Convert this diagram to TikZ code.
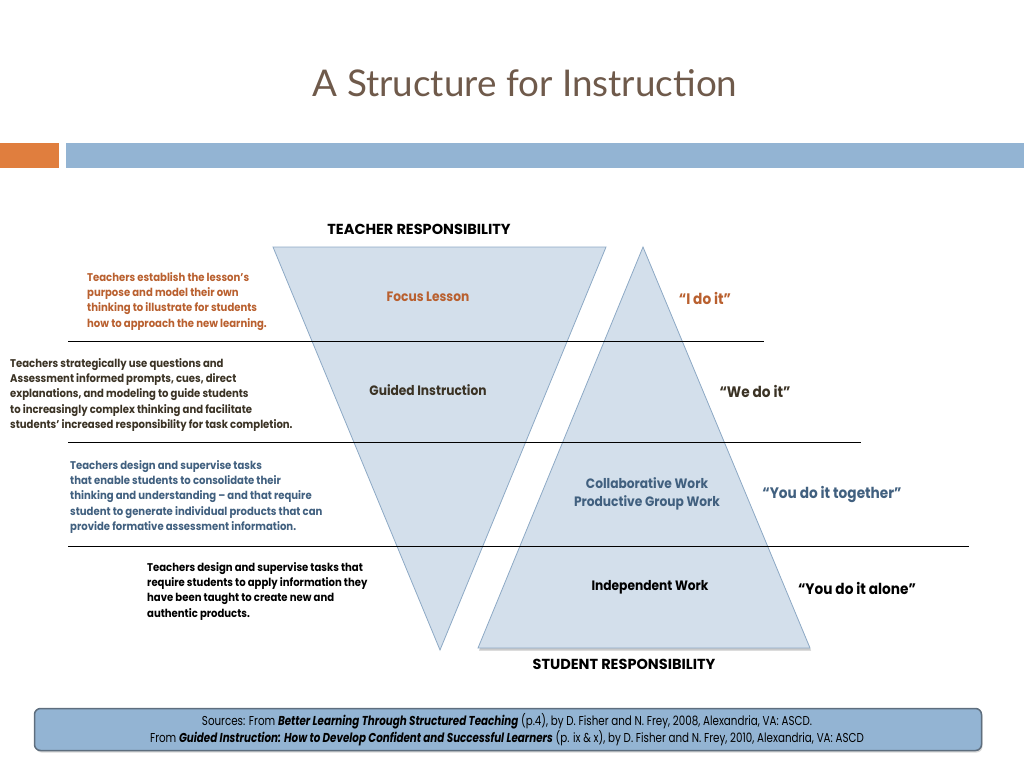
\documentclass[tikz,border=0pt]{standalone}
\usepackage{fontspec}
\setmainfont{Poppins}[FakeStretch=0.9]
\newfontfamily\wide{Poppins}
\newfontfamily\narrow{Poppins}[FakeStretch=0.8]
\newfontfamily\titlefont{Lato}
\usetikzlibrary{shadows}
\definecolor{titlebrown}{HTML}{6F5A4B}
\definecolor{barorange}{HTML}{E07E3E}
\definecolor{barblue}{HTML}{93B4D3}
\definecolor{trifill}{HTML}{D3DFEB}
\definecolor{triedge}{HTML}{8DA9C5}
\definecolor{txtorange}{HTML}{B9602F}
\definecolor{txtdark}{HTML}{3B3325}
\definecolor{txtblue}{HTML}{41607F}
\definecolor{boxedge}{HTML}{5E6E7E}
\tikzset{
  para/.style={anchor=north west, align=left, inner sep=0pt, font=\bfseries\fontsize{11.2}{15.4}\selectfont},
  stage/.style={align=center, inner sep=0pt, font=\bfseries\fontsize{13.6}{18}\selectfont},
  quote/.style={inner sep=0pt, font=\bfseries\fontsize{15.2}{18}\selectfont},
  head/.style={inner sep=0pt, font=\wide\bfseries\fontsize{14.5}{16}\selectfont},
  tri/.style={fill=trifill, draw=triedge, line width=0.8pt},
  sep/.style={draw=black, line width=0.9pt}
}
\begin{document}
\begin{tikzpicture}[x=1pt,y=-1pt]
\useasboundingbox (0,0) rectangle (1024,768);
% title
\node[font=\titlefont\fontsize{36.8}{42}\selectfont, text=titlebrown, inner sep=0pt] (title) at (525,83) {A Structure for Instruction};
% bars
\fill[barorange] (0,143) rectangle (59,168);
\fill[barblue] (66,143) rectangle (1024,168);
% triangles
\draw[tri] (273,247) -- (606,247) -- (440,650) -- cycle;
\draw[tri, drop shadow={opacity=0.35, shadow xshift=1pt, shadow yshift=-2.5pt, fill=black!60}] (643,247) -- (810,648) -- (478,648) -- cycle;
% separator lines
\draw[sep] (68,341) -- (764,341);
\draw[sep] (68,442) -- (861,442);
\draw[sep] (68,546) -- (969,546);
% headings
\node[head] (teacher) at (419,229) {TEACHER RESPONSIBILITY};
\node[head] (student) at (624,664) {STUDENT RESPONSIBILITY};
% paragraphs
\node[para, text=txtorange] (p1) at (87,272) {Teachers establish the lesson's\\purpose and model their own\\thinking to illustrate for students\\how to approach the new learning.};
\node[para, text=txtdark] (p2) at (10,358) {Teachers strategically use questions and\\Assessment informed prompts, cues, direct\\explanations, and modeling to guide students\\to increasingly complex thinking and facilitate\\students' increased responsibility for task completion.};
\node[para, text=txtblue] (p3) at (70,460) {Teachers design and supervise tasks\\that enable students to consolidate their\\thinking and understanding -- and that require\\student to generate individual products that can\\provide formative assessment information.};
\node[para, text=black] (p4) at (147,562) {Teachers design and supervise tasks that\\require students to apply information they\\have been taught to create new and\\authentic products.};
% stages
\node[stage, text=txtorange] (focus) at (428,297) {Focus Lesson};
\node[stage, text=txtdark] (guided) at (428,390) {Guided Instruction};
\node[stage, text=txtblue] (collab) at (647,494) {Collaborative Work\\Productive Group Work};
\node[stage, text=black] (indep) at (650,587) {Independent Work};
% quotes
\node[quote, text=txtorange] (q1) at (705,298) {``I do it''};
\node[quote, text=txtdark] (q2) at (755,391) {``We do it''};
\node[quote, text=txtblue] (q3) at (832,494) {``You do it together''};
\node[quote, text=black] (q4) at (857,588) {``You do it alone''};
% sources box
\node[draw=boxedge, line width=1.5pt, fill=barblue, rounded corners=6pt, minimum width=947pt, minimum height=42pt, inner sep=0pt, drop shadow={opacity=0.3, shadow xshift=1pt, shadow yshift=-2pt}] (src) at (508,729.5) {};
\node[align=center, inner sep=0pt, font=\narrow\fontsize{12.9}{17}\selectfont] (srctext) at (507,730) {Sources: From \textbf{\itshape Better Learning Through Structured Teaching} (p.4), by D. Fisher and N. Frey, 2008, Alexandria, VA: ASCD.\\From \textbf{\itshape Guided Instruction: How to Develop Confident and Successful Learners} (p. ix \& x), by D. Fisher and N. Frey, 2010, Alexandria, VA: ASCD};
\end{tikzpicture}
\end{document}
